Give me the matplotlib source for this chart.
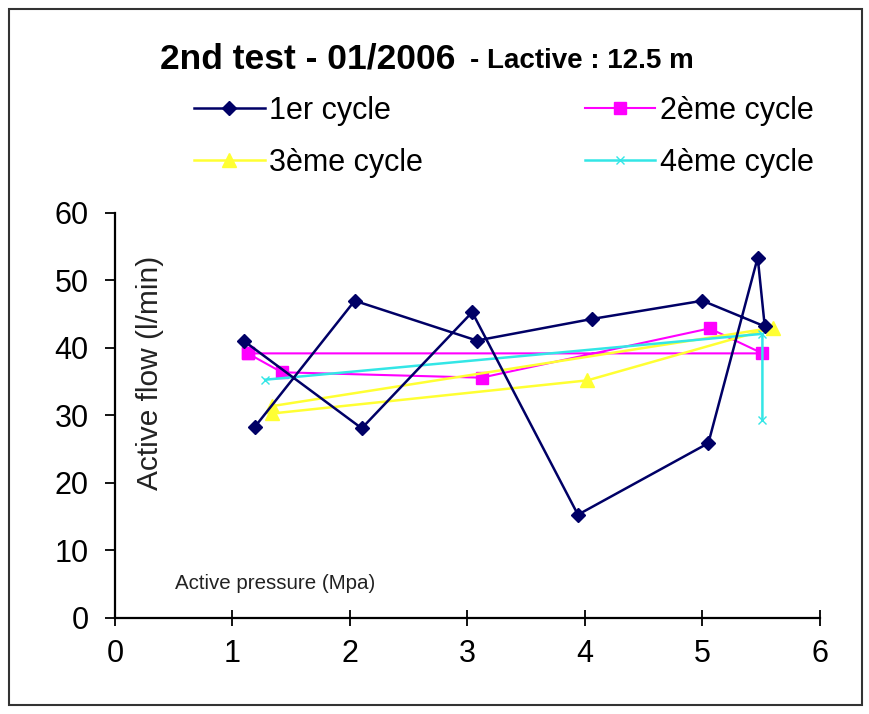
import matplotlib

matplotlib.use("Agg")
import matplotlib.pyplot as plt
from matplotlib.patches import Rectangle

plt.rcParams["font.family"] = ["Liberation Sans", "DejaVu Sans"]

# pressure (MPa) / flow (l/min) per cycle
c1_x = [1.10, 2.10, 3.04, 3.94, 5.05, 5.47, 5.53, 5.00, 4.06, 3.08, 2.04, 1.19]
c1_y = [41.0, 28.1, 45.3, 15.3, 25.9, 53.4, 43.2, 47.0, 44.3, 41.1, 47.0, 28.3]
c2_x = [1.13, 1.42, 3.12, 5.06, 5.51, 1.13]
c2_y = [39.2, 36.4, 35.6, 42.9, 39.2, 39.2]
c3_x = [1.34, 4.02, 5.60, 1.34]
c3_y = [30.3, 35.2, 43.0, 31.4]
c4_x = [1.28, 5.51, 5.51]
c4_y = [35.3, 42.1, 29.3]

labels = ["1er cycle", "2ème cycle", "3ème cycle", "4ème cycle"]
x_ticks = [0, 1, 2, 3, 4, 5, 6]
y_ticks = [0, 10, 20, 30, 40, 50, 60]

fig = plt.figure(figsize=(8.69, 7.14), dpi=100)
ax = fig.add_axes([0.1323, 0.1345, 0.8113, 0.5672])

h1, = ax.plot(c1_x, c1_y, color="#000066", lw=1.8, marker="D", ms=7.5, label=labels[0])
h2, = ax.plot(c2_x, c2_y, color="#ff00ff", lw=1.5, marker="s", ms=8.5, label=labels[1])
h3, = ax.plot(c3_x, c3_y, color="#ffff33", lw=1.8, marker="^", ms=10, label=labels[2])
h4, = ax.plot(c4_x, c4_y, color="#33e6e6", lw=1.8, marker="x", ms=6, mew=1, label=labels[3])
# keep the first cycle on top, as in the original
h1.set_zorder(5)

ax.set_xlim(0, 6)
ax.set_ylim(0, 60)
ax.set_xticks(x_ticks)
ax.set_yticks(y_ticks)
for s in ["top", "right"]:
    ax.spines[s].set_visible(False)
for s in ["left", "bottom"]:
    ax.spines[s].set_linewidth(1.6)
ax.tick_params(axis="x", direction="inout", length=12, width=1.3, labelsize=22, pad=9)
ax.tick_params(axis="y", direction="out", length=7, width=1.3, labelsize=22, pad=12)

ax.text(0.049, 0.895, "Active flow (l/min)", transform=ax.transAxes, rotation=90,
        ha="center", va="top", fontsize=21.5, color="#222222")
ax.text(0.085, 0.086, "Active pressure (Mpa)", transform=ax.transAxes,
        ha="left", va="center", fontsize=14.8, color="#222222")

fig.text(0.184, 0.917, "2nd test - 01/2006", fontsize=25.5, fontweight="bold", ha="left", va="center")
fig.text(0.541, 0.915, "- Lactive : 12.5 m", fontsize=20, fontweight="bold", ha="left", va="center")

# row-wise order: 1er / 2ème on top, 3ème / 4ème below
fig.legend(handles=[h1, h3, h2, h4], labels=[labels[0], labels[2], labels[1], labels[3]],
           ncol=2, loc="center", bbox_to_anchor=(0.58, 0.808), frameon=False, fontsize=22,
           handlelength=2.3, handletextpad=0.15, columnspacing=5.3, labelspacing=0.72)

fig.add_artist(Rectangle((0.010, 0.012), 0.982, 0.975, transform=fig.transFigure,
                         fill=False, lw=1.5, ec="#333333"))

fig.savefig("out.png", dpi=100)
